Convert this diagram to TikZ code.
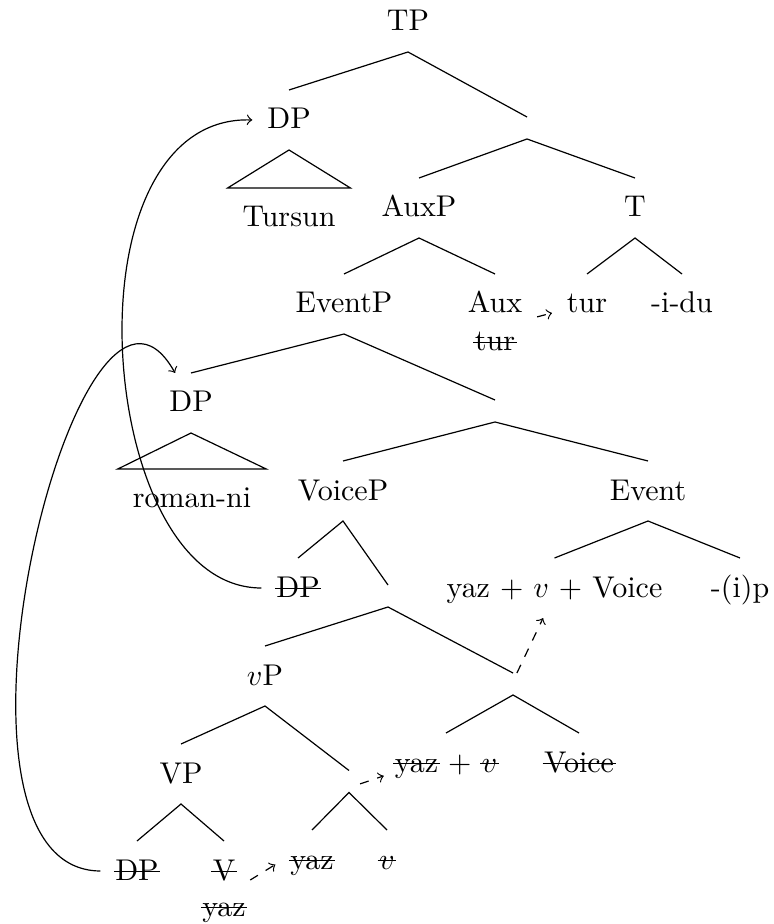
\documentclass[tikz,border=0pt]{standalone}
\newcommand\strk[1]{\setbox0=\hbox{#1}\rlap{\kern-0.5pt\rule[0.6ex]{\dimexpr\wd0+1pt\relax}{0.4pt}}\box0\relax}
\tikzset{
  lab/.style={anchor=base, inner sep=0pt, outer sep=5pt, text height=8pt, text depth=2pt},
  emp/.style={inner sep=0pt, outer sep=0pt, minimum width=0pt, minimum height=7.33pt},
  mv/.style={->, dashed},
  mvc/.style={->}
}
\begin{document}
\begin{tikzpicture}[x=0.33333pt, y=-0.33333pt]
\useasboundingbox (0,0) rectangle (773,924);
% nodes
\node[lab] (TP) at (408,31) {TP};
\node[emp] (e1) at (527,128) {};
\node[lab] (DPa) at (289,129) {DP};
\node[lab] (Tursun) at (289,227) {Tursun};
\node[lab] (AuxP) at (419,217) {AuxP};
\node[lab] (T) at (635,217) {T};
\node[lab] (EventP) at (344,313) {EventP};
\node[lab] (Aux) at (495,313) {Aux};
\node[lab] (turx) at (495,351) {\strk{tur}};
\node[lab] (tur) at (587,313) {tur};
\node[lab] (idu) at (682,313) {-i-du};
\node[lab] (DPb) at (191,412) {DP};
\node[emp] (e2) at (495,411) {};
\node[lab] (roman) at (192,508) {roman-ni};
\node[lab] (VoiceP) at (343,500) {VoiceP};
\node[lab] (Event) at (648,500) {Event};
\node[lab] (yvV) at (554.5,597) {yaz + $v$ + Voice};
\node[lab] (ip) at (740,597) {-(i)p};
\node[lab] (DPc) at (298,597) {\strk{DP}};
\node[emp] (e3) at (388,596) {};
\node[lab] (vP) at (265,685) {$v$P};
\node[emp] (e4) at (513,684) {};
\node[lab] (yv) at (446,772) {\strk{yaz} + \strk{$v$}};
\node[lab] (Voicex) at (579,772) {\strk{Voice}};
\node[lab] (VP) at (181,783) {VP};
\node[emp] (e5) at (349,781.5) {};
\node[lab] (DPd) at (137,880) {\strk{DP}};
\node[lab] (V) at (224,880) {\strk{V}};
\node[lab] (yazV) at (224,916) {\strk{yaz}};
\node[lab] (yazx) at (312,869) {\strk{yaz}};
\node[lab] (vx) at (387,869) {\strk{$v$}};
% branches
\draw (DPa.north) -- (TP.south) -- (e1.north);
\draw (AuxP.north) -- (e1.south) -- (T.north);
\draw (DPa.south) -- (Tursun.north west) -- (Tursun.north east) -- cycle;
\draw (EventP.north) -- (AuxP.south) -- (Aux.north);
\draw (tur.north) -- (T.south) -- (idu.north);
\draw (DPb.north) -- (EventP.south) -- (e2.north);
\draw (DPb.south) -- (roman.north west) -- (roman.north east) -- cycle;
\draw (VoiceP.north) -- (e2.south) -- (Event.north);
\draw (yvV.north) -- (Event.south) -- (ip.north);
\draw (DPc.north) -- (VoiceP.south) -- (e3.north);
\draw (vP.north) -- (e3.south) -- (e4.north);
\draw (yv.north) -- (e4.south) -- (Voicex.north);
\draw (VP.north) -- (vP.south) -- (e5.north);
\draw (DPd.north) -- (VP.south) -- (V.north);
\draw (yazx.north) -- (e5.south) -- (vx.north);
% head movement
\draw[mv] ([yshift=-1.3pt]Aux.base east) -- (tur.base west);
\draw[mv] (V.base east) -- ([yshift=1.5pt]yazx.base west);
\draw[mv] ([xshift=3.7pt,yshift=-0.8pt]e5.center) -- ([xshift=1.3pt,yshift=-1.3pt]yv.base west);
\draw[mv] ([xshift=1.3pt]e4.north) -- ([xshift=-3.8pt]yvV.south);
% phrasal movement
\coordinate (m1) at (122,330);
\draw[mvc] (DPc.west) .. controls (170,588) and (122,450) .. (m1)
  .. controls (122,215) and (165,117) .. (DPa.west);
\draw[mvc] (DPd.west) .. controls (-85,870) and (78,200) .. ([xshift=-5.3pt]DPb.north);
\end{tikzpicture}
\end{document}
